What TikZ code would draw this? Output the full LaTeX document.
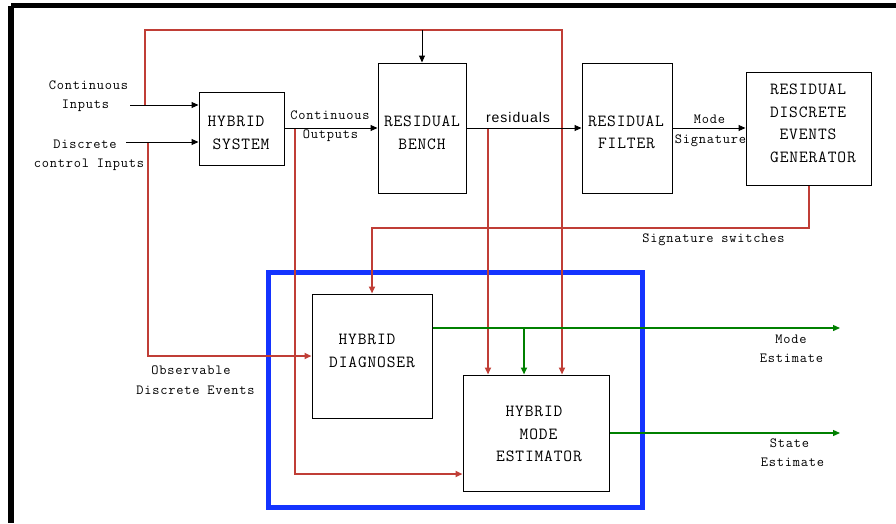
\documentclass[tikz,border=0pt]{standalone}
\usepackage{fontspec}
\usetikzlibrary{arrows.meta}
\newfontfamily\monob[LetterSpace=5]{Latin Modern Mono}
\newfontfamily\monof[LetterSpace=5.5]{Latin Modern Mono}
\newfontfamily\sansf[LetterSpace=7]{Liberation Sans}
\definecolor{redl}{RGB}{192,62,54}
\definecolor{bluel}{RGB}{20,52,255}
\definecolor{greenl}{RGB}{0,128,0}
\tikzset{
  blockbox/.style={draw=black, line width=1pt, inner sep=0pt},
  btxt/.style={anchor=base, inner sep=0pt, font=\monob\fontsize{17}{20}\selectfont},
  ltxt/.style={anchor=base, inner sep=0pt, font=\monof\fontsize{14}{18}\selectfont},
  tip/.style={-{Triangle[length=7pt,width=6pt]}},
  blk/.style={draw=black, line width=1pt},
  redw/.style={draw=redl, line width=2pt},
  grn/.style={draw=greenl, line width=1.3pt},
}
\begin{document}
\begin{tikzpicture}[x=1pt,y=-1pt]
\useasboundingbox (0,0) rectangle (896,523);
% frame
\fill[black] (11,3) rectangle (896,8);
\fill[black] (8,6) rectangle (14,523);
% blue box
\draw[bluel, line width=5pt] (268,272) rectangle (642,507);
% blocks
\node[blockbox, minimum width=85, minimum height=73] (hs) at (241.5,128.5) {};
\node[blockbox, minimum width=88, minimum height=130] (rb) at (422,128) {};
\node[blockbox, minimum width=90, minimum height=130] (rf) at (627,128) {};
\node[blockbox, minimum width=125, minimum height=113] (rdeg) at (808.5,128.5) {};
\node[blockbox, minimum width=120, minimum height=124] (hd) at (372,356) {};
\node[blockbox, minimum width=146, minimum height=116] (hme) at (536,433) {};
% block texts
\node[btxt] (hs1) at (236,126) {HYBRID};
\node[btxt] (hs2) at (241,149) {SYSTEM};
\node[btxt] (rb1) at (422,126) {RESIDUAL};
\node[btxt] (rb2) at (422,149) {BENCH};
\node[btxt] (rf1) at (626,126) {RESIDUAL};
\node[btxt] (rf2) at (626.5,148.5) {FILTER};
\node[btxt] (rd1) at (808,94) {RESIDUAL};
\node[btxt] (rd2) at (808,117) {DISCRETE};
\node[btxt] (rd3) at (808,139.5) {EVENTS};
\node[btxt] (rd4) at (813,162) {GENERATOR};
\node[btxt] (hd1) at (367,344) {HYBRID};
\node[btxt] (hd2) at (372,367) {DIAGNOSER};
\node[btxt] (hm1) at (534,416) {HYBRID};
\node[btxt] (hm2) at (538.5,439) {MODE};
\node[btxt] (hm3) at (539,461) {ESTIMATOR};
% labels
\node[ltxt] (ci1) at (88.5,89) {Continuous};
\node[ltxt] (ci2) at (85.5,108.5) {Inputs};
\node[ltxt] (dc1) at (85,148) {Discrete};
\node[ltxt] (dc2) at (89,167.5) {control Inputs};
\node[ltxt] (co1) at (330,119) {Continuous};
\node[ltxt] (co2) at (330.5,138.5) {Outputs};
\node[anchor=base, inner sep=0pt, font=\sansf\fontsize{14}{16}\selectfont] (resL) at (518,122) {residuals};
\node[ltxt] (ms1) at (709.5,123) {Mode};
\node[ltxt] (ms2) at (710.5,143.5) {Signature};
\node[ltxt] (ssL) at (713.5,242.5) {Signature switches};
\node[ltxt] (od1) at (191,374) {Observable};
\node[ltxt] (od2) at (195.5,394) {Discrete Events};
\node[ltxt] (me1) at (791,343) {Mode};
\node[ltxt] (me2) at (791.5,362.5) {Estimate};
\node[ltxt] (se1) at (789.5,447) {State};
\node[ltxt] (se2) at (792.5,466.5) {Estimate};
% coordinates
\coordinate (ciS) at (130,105);
\coordinate (dcS) at (126,142);
\coordinate (tapA) at (145,105);
\coordinate (tapB) at (148,142);
\coordinate (tapC) at (295,128);
\coordinate (tapD) at (488,128);
\coordinate (topL) at (145,30);
\coordinate (topR) at (562,30);
\coordinate (topM) at (422,30);
\coordinate (sigA) at (809,228);
\coordinate (sigB) at (372,228);
\coordinate (obsC) at (148,356);
\coordinate (coC) at (295,474);
\coordinate (gBr) at (524,328);
\coordinate (meE) at (840,328);
\coordinate (seE) at (840,433);
% red connectors
\draw[redw, tip] (tapA) -- (topL) -- (topR) -- (topR |- hme.north);
\draw[redw, tip] (tapB) -- (obsC) -- (hd.west |- obsC);
\draw[redw, tip] (tapC) -- (coC) -- (hme.west |- coC);
\draw[redw, tip] (tapD) -- (tapD |- hme.north);
\draw[redw, tip] (rdeg.south -| sigA) -- (sigA) -- (sigB) -- (hd.north);
% black connectors
\draw[blk, tip] (ciS) -- (hs.west |- ciS);
\draw[blk, tip] (dcS) -- (hs.west |- dcS);
\draw[blk, tip] (hs.east |- tapC) -- (rb.west |- tapC);
\draw[blk, tip] (rb.east |- tapC) -- (rf.west |- tapC);
\draw[blk, tip] (rf.east |- tapC) -- (rdeg.west |- tapC);
\draw[blk, tip] (topM) -- (rb.north);
% green connectors
\draw[grn, tip] (hd.east |- gBr) -- (meE);
\draw[grn, line width=2pt, tip] (gBr) -- (gBr |- hme.north);
\draw[grn, tip] (hme.east |- seE) -- (seE);
\end{tikzpicture}
\end{document}
